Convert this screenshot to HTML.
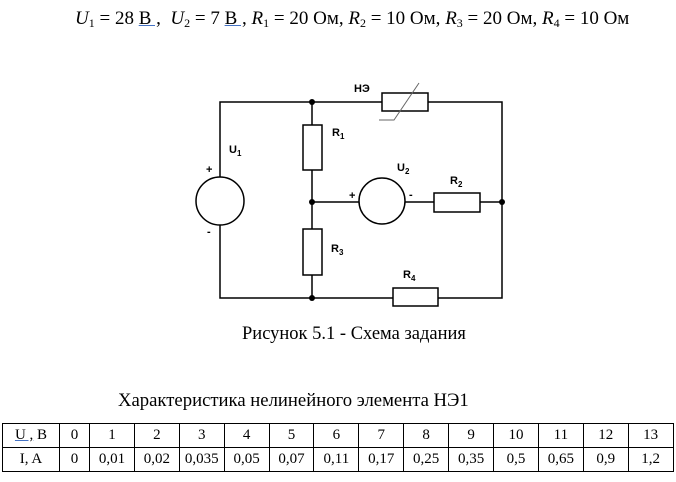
<!DOCTYPE html>
<html><head><meta charset="utf-8"><style>
body{margin:0;width:676px;height:482px;background:#fff;position:relative;overflow:hidden;font-family:"Liberation Serif",serif;color:#000}
.t{position:absolute;white-space:nowrap}
i{font-style:italic}
sub{font-size:12px;vertical-align:-3px}
.u{text-decoration:underline;text-decoration-color:#4472c4}
table{position:absolute;left:2px;top:423px;border-collapse:collapse;font-size:15px;table-layout:fixed}
td{border:1px solid #000;height:23px;text-align:center;padding:0}
</style></head><body>
<div class="t" style="left:75px;top:8px;font-size:19px"><i>U</i><sub>1</sub> = 28 <span class="u">В ,</span>&nbsp; <i>U</i><sub>2</sub> = 7 <span class="u">В ,</span> <i>R</i><sub>1</sub> = 20 Ом, <i>R</i><sub>2</sub> = 10 Ом, <i>R</i><sub>3</sub> = 20 Ом, <i>R</i><sub>4</sub> = 10 Ом</div>
<svg style="position:absolute;left:0;top:0" width="676" height="320" font-family="Liberation Sans,sans-serif" font-weight="bold" font-size="11">
<g stroke="#000" stroke-width="1.5" fill="none">
<path d="M220,102H502V298H220Z"/>
<path d="M312,102V298M312,202H502"/>
</g>
<g stroke="#000" stroke-width="1.5" fill="#fff">
<circle cx="220" cy="201" r="24"/>
<circle cx="382" cy="201" r="23"/>
<rect x="303" y="125" width="19" height="45"/>
<rect x="303" y="229" width="19" height="46"/>
<rect x="382" y="93" width="46" height="18"/>
<rect x="434" y="193" width="46" height="19"/>
<rect x="393" y="288" width="45" height="18"/>
</g>
<path d="M379,120H394L419,83" stroke="#666" stroke-width="1" fill="none"/>
<g fill="#000"><circle cx="312" cy="102" r="3"/><circle cx="312" cy="202" r="3"/><circle cx="312" cy="298" r="3"/><circle cx="502" cy="202" r="3"/></g>
<text x="354" y="92">НЭ</text>
<text x="332" y="136">R<tspan font-size="8" dy="3">1</tspan></text>
<text x="229" y="153">U<tspan font-size="8" dy="3">1</tspan></text>
<text x="397" y="171">U<tspan font-size="8" dy="3">2</tspan></text>
<text x="450" y="184">R<tspan font-size="8" dy="3">2</tspan></text>
<text x="331" y="252">R<tspan font-size="8" dy="3">3</tspan></text>
<text x="403" y="278">R<tspan font-size="8" dy="3">4</tspan></text>
<text x="206" y="173">+</text><text x="207" y="235">-</text>
<text x="349" y="199">+</text><text x="409" y="198">-</text>
</svg>
<div class="t" style="left:242px;top:324px;font-size:18.5px">Рисунок 5.1 - Схема задания</div>
<div class="t" style="left:118px;top:390px;font-size:18.7px">Характеристика нелинейного элемента НЭ1</div>
<table>
<colgroup><col style="width:57px"><col style="width:30px"><col span="13" style="width:44.9px"></colgroup>
<tr><td><span class="u">U ,</span> В</td><td>0</td><td>1</td><td>2</td><td>3</td><td>4</td><td>5</td><td>6</td><td>7</td><td>8</td><td>9</td><td>10</td><td>11</td><td>12</td><td>13</td></tr>
<tr><td>I, A</td><td>0</td><td>0,01</td><td>0,02</td><td>0,035</td><td>0,05</td><td>0,07</td><td>0,11</td><td>0,17</td><td>0,25</td><td>0,35</td><td>0,5</td><td>0,65</td><td>0,9</td><td>1,2</td></tr>
</table>
</body></html>
